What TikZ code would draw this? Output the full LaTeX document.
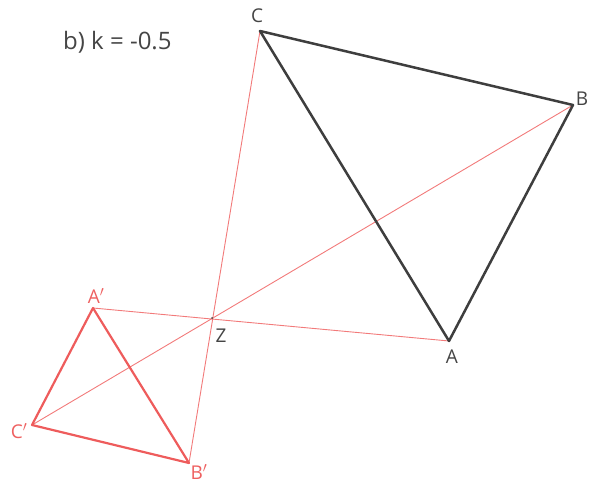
\documentclass[tikz,border=0pt]{standalone}
\usepackage{fontspec}
\setmainfont{Open Sans}
\begin{document}
\begin{tikzpicture}[x=1pt,y=-1pt,
  pt/.style={inner sep=0pt,minimum size=0pt},
  lab/.style={text=labgray,font=\fontsize{19}{19}\selectfont,inner sep=0pt},
  rlab/.style={text=labred,font=\fontsize{19}{19}\selectfont,inner sep=0pt},
  thinred/.style={draw=linered,line width=0.9pt},
  redtri/.style={draw=trired,line width=2.2pt,line join=round},
  darktri/.style={draw=darkline,line width=2.5pt,line join=round}]
\definecolor{labgray}{HTML}{454545}
\definecolor{labred}{HTML}{EE6060}
\definecolor{linered}{HTML}{F27A7A}
\definecolor{trired}{HTML}{EE5C5C}
\definecolor{darkline}{HTML}{3E3E3E}
\useasboundingbox (0,0) rectangle (589,484);
\coordinate (C) at (260,31);
\coordinate (B) at (573,105);
\coordinate (A) at (449,341);
\coordinate (Z) at (212,318);
\coordinate (A1) at (93,308);
\coordinate (C1) at (32,425);
\coordinate (B1) at (189,463);
\draw[thinred] (A1) -- (A);
\draw[thinred] (C1) -- (B);
\draw[thinred] (C) -- (B1);
\draw[darktri] (C) -- (B) -- (A) -- cycle;
\draw[redtri] (A1) -- (B1) -- (C1) -- cycle;
\fill[labgray] (Z) circle (1pt);
\node[lab] (tC) at (257,16) {C};
\node[lab] (tB) at (582,99) {B};
\node[lab] (tA) at (452,357) {A};
\node[lab] (tZ) at (221,336) {Z};
\node[rlab] (tA1) at (96,296) {A$'$};
\node[rlab] (tC1) at (19,431) {C$'$};
\node[rlab] (tB1) at (199,472) {B$'$};
\node[lab,anchor=west,font=\fontsize{24}{24}\selectfont] (title) at (63,42) {b) k = -0.5};
\end{tikzpicture}
\end{document}
